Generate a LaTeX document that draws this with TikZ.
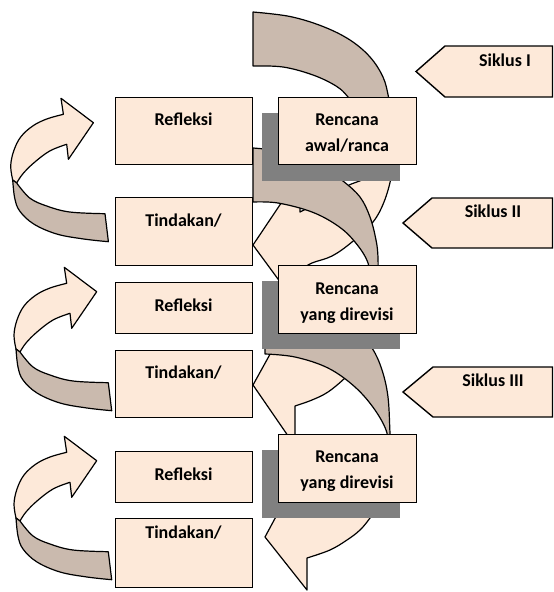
\documentclass[tikz,border=0pt]{standalone}
\usepackage{fontspec}
\setmainfont{Carlito}
\definecolor{peach}{HTML}{FDE9D9}
\definecolor{tanband}{HTML}{CABAAE}
\definecolor{shadowgray}{HTML}{808080}
\tikzset{
 boxnode/.style={draw=black, line width=1.4pt, fill=peach, inner sep=0pt, anchor=north west, minimum width=137pt},
 rennode/.style={boxnode, minimum width=138pt, minimum height=68pt},
 shadownode/.style={fill=shadowgray, inner sep=0pt, anchor=north west, minimum width=138pt, minimum height=68pt},
 lbl/.style={font=\fontsize{18}{22}\selectfont\bfseries, inner sep=0pt, anchor=base},
 arrowline/.style={draw=black, line width=1.2pt, line join=round},
 lightfill/.style={arrowline, fill=peach},
 darkfill/.style={arrowline, fill=tanband},
 sikfill/.style={draw=black, line width=1.4pt, fill=peach, line join=miter},
}
\newcommand{\LArrowShape}{%
 \filldraw[lightfill] plot[smooth,tension=0.6] coordinates {(16,349) (14,335) (17,320) (24,306) (36,295) (50,288) (66.7,283.3)} -- (64.3,267.3) -- (96.7,291.7) -- (71.7,328.3) -- (70,313.3) -- plot[smooth,tension=0.6] coordinates {(70,313.3) (53,320) (37,332) (26,343) (20,352)} -- cycle;
 \filldraw[darkfill] plot[smooth,tension=0.6] coordinates {(16,349) (18,367) (23,380) (37,393) (60,403) (87,408) (111.7,410.7)} -- (108.3,382.7) -- plot[smooth,tension=0.6] coordinates {(108.3,382.7) (73,381) (50,375) (33,367) (20,352)} -- cycle;
}
\begin{document}
\begin{tikzpicture}[x=1pt,y=-1pt]
\useasboundingbox (0,0) rectangle (554,592);
% left curved arrows
\begin{scope}[shift={(-3.3,-169)}]\LArrowShape\end{scope}
\LArrowShape
\begin{scope}[shift={(0,169)}]\LArrowShape\end{scope}
% right arrow A
\filldraw[darkfill] plot[smooth,tension=0.6] coordinates {(253,12) (290,16.5) (323,26.5) (350,40) (370,57) (383,77) (388.5,97) (392,120) (393,140)} -- (366,140) -- plot[smooth,tension=0.6] coordinates {(366,140) (360,115) (348,97) (336,86) (313,75) (283,67) (253,66)} -- cycle;
\filldraw[lightfill] (253,245) -- (300,175) -- (300,212) -- plot[smooth,tension=0.6] coordinates {(300,212) (325,199) (347,186) (362,180) (378,172) (392,162)} -- plot[smooth,tension=0.6] coordinates {(392,162) (391,178) (384,202) (373,222) (352,242) (332,256) (312,263) (300,270)} -- (300,309) -- cycle;
% right arrow B
\filldraw[darkfill] plot[smooth,tension=0.6] coordinates {(253,148) (290,152.5) (320,164) (343,181) (360,197) (370,217) (376,240) (378,258) (378,290)} -- (372,290) -- plot[smooth,tension=0.6] coordinates {(372,290) (368,263) (355,242) (338,226) (312,212) (278,203) (253,202)} -- cycle;
\filldraw[lightfill] (253,385) -- (295,309) -- (295,343) -- plot[smooth,tension=0.6] coordinates {(295,343) (320,338) (345,328) (362,318)} -- plot[smooth,tension=0.6] coordinates {(362,318) (368,335) (366,350) (357,365) (345,378) (328,392) (312,400) (295,406)} -- (295,446) -- cycle;
% right arrow C
\filldraw[darkfill] plot[smooth,tension=0.6] coordinates {(265,296) (300,300) (330,311) (355,328) (372,348) (382,370) (388,397) (390,433) (391,450)} -- (386,450) -- plot[smooth,tension=0.6] coordinates {(386,450) (387,433) (375,410) (355,387) (328,368) (295,357) (265,354)} -- cycle;
\filldraw[lightfill] (265,537) -- (307,459) -- (307,495) -- plot[smooth,tension=0.6] coordinates {(307,495) (335,490) (360,478) (378,465)} -- plot[smooth,tension=0.6] coordinates {(378,465) (382,485) (378,505) (370,518) (360,530) (347,540) (330,550) (307,558)} -- (307,590) -- cycle;
% shadows
\node[shadownode] (sh1) at (262,113) {};
\node[shadownode] (sh2) at (262,281) {};
\node[shadownode] (sh3) at (262,450) {};
% left boxes
\node[boxnode, minimum height=67pt] (refl1) at (115,97) {};
\node[boxnode, minimum height=68pt] (tind1) at (115,197) {};
\node[boxnode, minimum height=51pt] (refl2) at (115,282) {};
\node[boxnode, minimum height=67pt] (tind2) at (115,350) {};
\node[boxnode, minimum height=51pt] (refl3) at (115,451) {};
\node[boxnode, minimum height=69pt] (tind3) at (115,518) {};
% rencana boxes
\node[rennode, minimum height=67pt] (ren1) at (278,97) {};
\node[rennode] (ren2) at (278,265) {};
\node[rennode] (ren3) at (278,434) {};
% labels
\node[lbl] (refl1t) at (183.5,125.5) {Refleksi};
\node[lbl] (tind1t) at (183.5,226.7) {Tindakan/};
\node[lbl] (refl2t) at (183.5,311) {Refleksi};
\node[lbl] (tind2t) at (183.5,378.3) {Tindakan/};
\node[lbl] (refl3t) at (183.5,480) {Refleksi};
\node[lbl] (tind3t) at (183.5,538) {Tindakan/};
\node[lbl] (ren1a) at (347,125.7) {Rencana};
\node[lbl] (ren1b) at (347,151.5) {awal/ranca};
\node[lbl] (ren2a) at (347,294.3) {Rencana};
\node[lbl] (ren2b) at (347,320.3) {yang direvisi};
\node[lbl] (ren3a) at (347,462.3) {Rencana};
\node[lbl] (ren3b) at (347,488.5) {yang direvisi};
% siklus pentagons
\filldraw[sikfill] (552.5,46) -- (445,46) -- (416,71.5) -- (445,97) -- (552.5,97) -- cycle;
\filldraw[sikfill] (552.5,198) -- (432,198) -- (403,223) -- (432,248) -- (552.5,248) -- cycle;
\filldraw[sikfill] (552.5,367) -- (433,367) -- (403,392) -- (433,417) -- (552.5,417) -- cycle;
\node[lbl] (sik1) at (505,66) {Siklus I};
\node[lbl] (sik2) at (493,217) {Siklus II};
\node[lbl] (sik3) at (493,386.7) {Siklus III};
\end{tikzpicture}
\end{document}
